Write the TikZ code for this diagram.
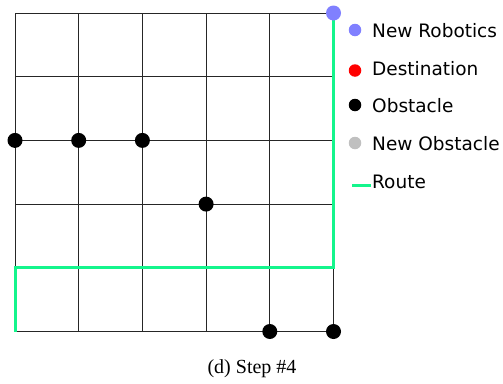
\documentclass[tikz,border=0pt]{standalone}
\usepackage{fontspec}
\setmainfont{Liberation Serif}
\newfontfamily\legfont{DejaVu Sans}
\definecolor{robot}{RGB}{128,128,255}
\definecolor{route}{RGB}{20,245,140}
\definecolor{newobs}{RGB}{192,192,192}
\tikzset{
  gridline/.style={draw=black!85, line width=0.9pt},
  obst/.style={circle, fill=black, inner sep=0pt, minimum size=15pt},
  robotdot/.style={circle, fill=robot, inner sep=0pt, minimum size=15pt},
  legdot/.style={circle, inner sep=0pt, minimum size=12.5pt},
  legtext/.style={anchor=west, inner sep=0pt, font=\legfont\fontsize{18.5}{20}\selectfont},
  routeline/.style={draw=route, line width=3pt},
}
\begin{document}
\begin{tikzpicture}[x=1pt,y=-1pt]
\useasboundingbox (0,0) rectangle (503,383);
% grid
\foreach \i in {0,...,5} {
  \draw[gridline] ({15+\i*63.7},13) -- ({15+\i*63.7},331.5);
  \draw[gridline] (15,{13+\i*63.7}) -- (333.5,{13+\i*63.7});
}
% route
\coordinate (r0) at (333.5,13);
\coordinate (r1) at (333.5,267.8);
\coordinate (r2) at (15,267.8);
\coordinate (r3) at (15,331.5);
\draw[routeline] (r0) -- (r1) -- (r2) -- (r3);
% obstacles
\node[obst] (o1) at (15,140.4) {};
\node[obst] (o2) at (78.7,140.4) {};
\node[obst] (o3) at (142.4,140.4) {};
\node[obst] (o4) at (206.1,204.1) {};
\node[obst] (o5) at (269.8,331.5) {};
\node[obst] (o6) at (333.5,331.5) {};
\node[robotdot] (rb) at (333.5,13) {};
% legend
\node[legdot, fill=robot] (l1) at (355,30) {};
\node[legtext] (t1) at (372,31) {New Robotics};
\node[legdot, fill=red] (l2) at (355,70.5) {};
\node[legtext] (t2) at (372,69) {Destination};
\node[legdot, fill=black] (l3) at (355,105) {};
\node[legtext] (t3) at (372,106) {Obstacle};
\node[legdot, fill=newobs] (l4) at (355,143) {};
\node[legtext] (t4) at (372,144) {New Obstacle};
\coordinate (la) at (352,185.5);
\coordinate (lb) at (371,185.5);
\draw[routeline, line width=2.5pt] (la) -- (lb);
\node[legtext] (t5) at (372,182) {Route};
% caption
\node[font=\fontsize{20}{22}\selectfont] (cap) at (252,369) {(d) Step \#4};
\end{tikzpicture}
\end{document}
